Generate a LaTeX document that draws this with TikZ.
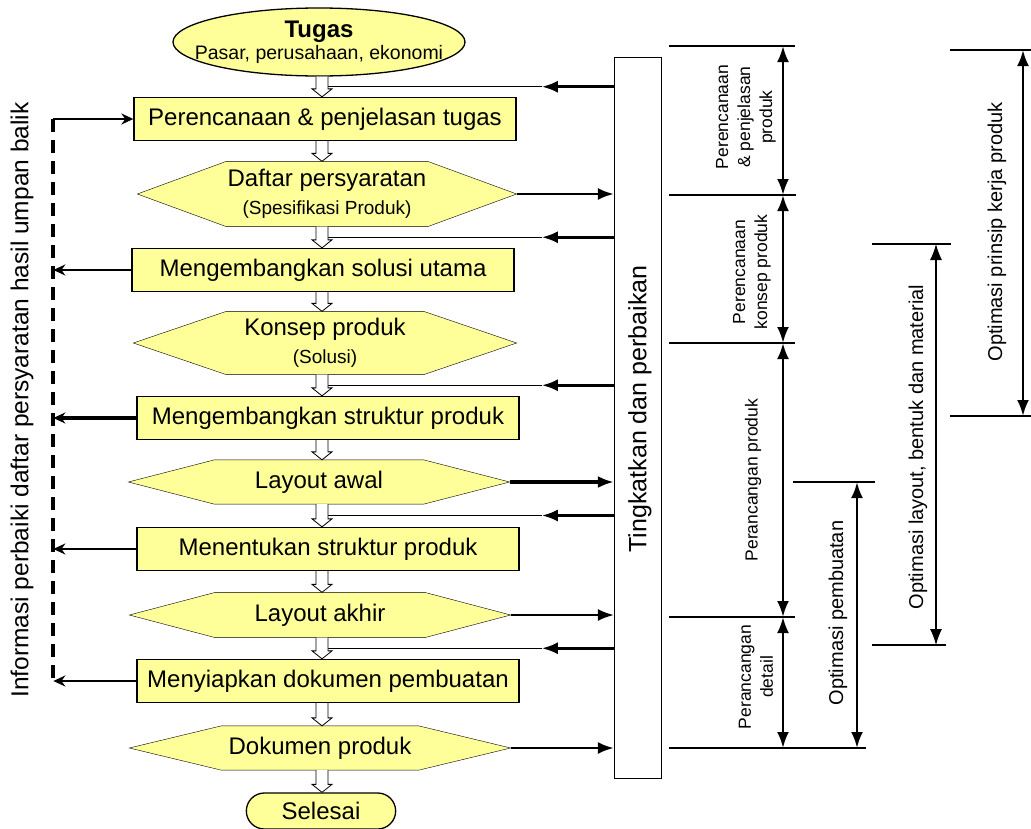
\documentclass[tikz,border=0pt]{standalone}
\usepackage{fontspec}
\setmainfont{Liberation Sans}
\usetikzlibrary{shapes.geometric,shapes.misc,arrows.meta,calc,backgrounds}
\definecolor{boxyellow}{RGB}{255,255,153}
\newcommand{\fsz}[2]{\fontsize{#1}{#2}\selectfont}
% hollow block arrow between two steps of the flow
\newcommand{\hollowarrow}[2]{%
  \draw[hollow] ($(#1.south -| col)+(-6,0)$) -- ($(#2.north -| col)+(-6,-8)$) -- ++(-4,0)
    -- (#2.north -| col) -- ++(10,-8) -- ++(-4,0) -- ($(#1.south -| col)+(6,0)$);}
% pointed frame round a result node
\newcommand{\hexframe}[2]{%
  \draw[fill=boxyellow] (#1.west) -- ($(#1.north west)+(#2,0)$) -- ($(#1.north east)+(-#2,0)$)
    -- (#1.east) -- ($(#1.south east)+(-#2,0)$) -- ($(#1.south west)+(#2,0)$) -- cycle;}

\begin{document}
\begin{tikzpicture}[x=1pt, y=-1pt, line width=1.3pt,
   box/.style={draw, fill=boxyellow, minimum width=382, minimum height=43, inner sep=0pt, font=\fsz{24}{28}},
   hexa/.style={minimum width=380, inner sep=0pt, align=center, font=\fsz{24}{28}},
   hollow/.style={fill=white, line width=0.8pt},
   feed/.style={line width=2.6pt, -{Latex[length=16pt,width=12pt]}},
   toright/.style={-{Latex[length=16pt,width=12pt]}},
   toleft/.style={line width=2pt, -{Stealth[length=12pt,width=11pt]}},
   dimline/.style={line width=2.6pt, {Latex[length=16pt,width=12pt]}-{Latex[length=16pt,width=12pt]}},
   rule/.style={line width=1.2pt},
   phaselabel/.style={rotate=90, align=center, font=\fsz{17.5}{22}},
   optlabel/.style={rotate=90, font=\fsz{20}{24}},]
   \useasboundingbox (0,0) rectangle (1031,828);
   \coordinate (col) at (322,0);

   % flow
   \node[ellipse, draw, fill=boxyellow, minimum width=292, minimum height=68, inner xsep=-25pt, inner ysep=0pt, align=center] (tugas) at (319,42)
      {{\fsz{24}{26}\bfseries Tugas}\\[2pt]{\fsz{19.5}{22}Pasar, perusahaan, ekonomi}};
   \node[box] (plan) at (325,119) {Perencanaan \& penjelasan tugas};
   \node[hexa, minimum width=378, minimum height=64] (spec) at (327,194)
      {Daftar persyaratan\\{\fsz{19}{22}(Spesifikasi Produk)}};
   \node[box] (sol) at (323,270) {Mengembangkan solusi utama};
   \node[hexa, minimum width=382, minimum height=62] (konsep) at (325,343)
      {Konsep produk\\{\fsz{19}{22}(Solusi)}};
   \node[box] (struk) at (328,418) {Mengembangkan struktur produk};
   \node[hexa, minimum height=43] (lawal) at (319,482) {Layout awal};
   \node[box] (tentu) at (328,549) {Menentukan struktur produk};
   \node[hexa, minimum height=44] (lakhir) at (320,615) {Layout akhir};
   \node[box] (dok) at (328,681) {Menyiapkan dokumen pembuatan};
   \node[hexa, minimum height=43] (dprod) at (320,748) {Dokumen produk};
   \node[rounded rectangle, draw, fill=boxyellow, minimum width=156, minimum height=36, font=\fsz{24}{28}] (selesai) at (321,811) {Selesai};
   \begin{scope}[on background layer]
      \foreach \h/\e in {spec/89, konsep/93, lawal/86, lakhir/86, dprod/92}
         \hexframe{\h}{\e};
   \end{scope}

   % improvement column
   \node[draw, minimum width=47, minimum height=721, inner sep=0pt] (rb) at (638,418) {};
   \node[rotate=90, font=\fsz{25}{28}] (rbtext) at (640,409) {Tingkatkan dan perbaikan};

   \foreach \a/\b in {tugas/plan, spec/sol, konsep/struk, lawal/tentu, lakhir/dok} {
      \coordinate (fb) at ($(\a.south -| col)!.5!(\b.north -| col)+(6,0)$);
      \draw[feed] (rb.west |- fb) -- ($(rb.west |- fb)+(-72,0)$) coordinate (fbtip);
      \draw[line width=1.2pt] (fbtip) -- (fb);
   }
   \foreach \h/\w in {spec/2.6, lawal/3.6, lakhir/2, dprod/2.6}
      \draw[toright, line width=\w pt] (\h.east) -- (rb.west |- \h.east);

   \foreach \a/\b in {tugas/plan, plan/spec, spec/sol, sol/konsep, konsep/struk, struk/lawal,
                      lawal/tentu, tentu/lakhir, lakhir/dok, dok/dprod, dprod/selesai}
      \hollowarrow{\a}{\b};

   % feedback on the left
   \node[rotate=90, font=\fsz{24.5}{28}] (info) at (22,400) {Informasi perbaiki daftar persyaratan hasil umpan balik};
   \coordinate (dtop) at ($(plan.west)+(-80,0)$);
   \coordinate (dbot) at (dtop |- dok.west);
   \draw[line width=4pt, dash pattern=on 13pt off 8pt] (dtop) -- (dbot);
   \draw[toleft] (dtop) -- (plan.west);
   \foreach \b/\w in {sol/2, struk/3.4, tentu/2, dok/2}
      \draw[toleft, line width=\w pt] (\b.west) -- (\b.west -| dtop);

   % phases
   \foreach \n/\y in {0/46, 1/195, 2/343, 3/617, 4/748}
      \coordinate (ph\n) at (783,\y);
   \draw[rule] (669,46) -- (795,46);
   \draw[rule] (669,195) -- (796,195);
   \draw[rule] (669,343) -- (795,343);
   \draw[rule] (669,617) -- (795,617);
   \draw[rule] (669,748) -- (866,748);
   \foreach \a/\b in {ph0/ph1, ph1/ph2, ph2/ph3, ph3/ph4}
      \draw[dimline] (\a) -- (\b);
   \node[phaselabel] at (746,117) {Perencanaan\\\& penjelasan\\produk};
   \node[phaselabel] at (752,272) {Perencanaan\\konsep produk};
   \node[phaselabel] at (753,480) {Perancangan produk};
   \node[phaselabel] at (756,677) {Perancangan\\detail};

   % optimisation ranges
   \coordinate (ob1) at (857,482);
   \coordinate (ob2) at (857,748);
   \draw[rule] (793,482) -- (875,482);
   \draw[dimline] (ob1) -- (ob2);
   \node[optlabel] at (838,613) {Optimasi pembuatan};

   \coordinate (ol1) at (936,244);
   \coordinate (ol2) at (936,645);
   \draw[rule] (872,244) -- (951,244);
   \draw[rule] (872,645) -- (946,645);
   \draw[dimline, line width=1.2pt] (ol1) -- (ol2);
   \node[optlabel] at (918,447) {Optimasi layout, bentuk dan material};

   \coordinate (op1) at (1023,50);
   \coordinate (op2) at (1023,416);
   \draw[rule] (950,50) -- (1031,50);
   \draw[rule] (950,416) -- (1031,416);
   \draw[dimline] (op1) -- (op2);
   \node[optlabel] at (997,232) {Optimasi prinsip kerja produk};
\end{tikzpicture}
\end{document}
